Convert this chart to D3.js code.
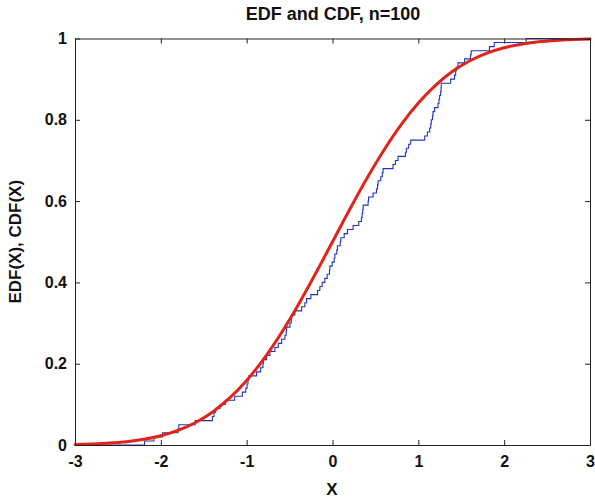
<!DOCTYPE html>
<html><head><meta charset="utf-8">
<script src="https://cdn.jsdelivr.net/npm/d3@7"></script>
<style>body{margin:0;background:#fff}svg text{font-family:"Liberation Sans",Arial,sans-serif;font-weight:bold;fill:#111}</style>
</head><body><svg id="c" width="595" height="500"></svg>
<script>
// Sorted sample values (EDF jumps), n = 100
const edfSamples = [
 -2.19,-2.08,-1.98,-1.80,-1.79,-1.60,-1.40,-1.38,-1.36,-1.31,
 -1.25,-1.14,-1.05,-1.01,-0.995,-0.985,-0.975,-0.884,-0.837,-0.81,
 -0.806,-0.767,-0.729,-0.671,-0.632,-0.593,-0.554,-0.54,-0.535,-0.496,
 -0.48,-0.477,-0.438,-0.36,-0.322,-0.302,-0.252,-0.174,-0.147,-0.12,
 -0.089,-0.062,-0.035,-0.031,-0.004,0.02,0.027,0.05,0.058,0.09,
 0.097,0.136,0.174,0.24,0.306,0.337,0.345,0.352,0.357,0.415,
 0.42,0.473,0.512,0.525,0.531,0.562,0.58,0.589,0.705,0.733,
 0.764,0.85,0.86,0.887,0.911,1.074,1.105,1.132,1.145,1.151,
 1.165,1.171,1.19,1.229,1.24,1.248,1.26,1.265,1.267,1.376,
 1.422,1.435,1.442,1.461,1.539,1.608,1.616,1.829,1.884,2.256];
// CDF curve read at x steps
const cdfX = [-3,-2.8,-2.6,-2.4,-2.2,-2,-1.8,-1.6,-1.4,-1.2,-1,-0.8,-0.6,-0.4,-0.2,0,
 0.2,0.4,0.6,0.8,1,1.2,1.4,1.6,1.8,2,2.2,2.4,2.6,2.8,3];
const cdfY = [0.0013,0.0026,0.0047,0.0082,0.0139,0.0228,0.0359,0.0548,0.0808,0.1151,0.1587,0.2119,0.2743,0.3446,0.4207,0.5,
 0.5793,0.6554,0.7257,0.7881,0.8413,0.8849,0.9192,0.9452,0.9641,0.9772,0.9861,0.9918,0.9953,0.9974,0.9987];
const xTicks = [-3,-2,-1,0,1,2,3];
const xTickLabels = ["-3","-2","-1","0","1","2","3"];
const yTicks = [0,0.2,0.4,0.6,0.8,1];
const yTickLabels = ["0","0.2","0.4","0.6","0.8","1"];

const L=75,R=590,T=38.5,B=445;
const svg=d3.select("#c");
const x=d3.scaleLinear().domain([-3,3]).range([L,R]);
const y=d3.scaleLinear().domain([0,1]).range([B,T]);

// EDF step path
const n=edfSamples.length;
const edfPts=[[-3,0]];
edfSamples.forEach((v,i)=>edfPts.push([v,(i+1)/n]));
edfPts.push([3,1]);
const stepLine=d3.line().x(d=>x(d[0])).y(d=>y(d[1])).curve(d3.curveStepAfter);
svg.append("path").datum(edfPts).attr("d",stepLine).attr("fill","none").attr("stroke","#1f35c0").attr("stroke-width",1.1);

const cdfLine=d3.line().x(d=>x(d[0])).y(d=>y(d[1])).curve(d3.curveMonotoneX);
svg.append("path").datum(cdfX.map((v,i)=>[v,cdfY[i]])).attr("d",cdfLine)
 .attr("fill","none").attr("stroke","#e2231a").attr("stroke-width",3).attr("stroke-linecap","round");

// axes (inside ticks, box)
const tl=5;
const axB=d3.axisBottom(x).tickValues(xTicks).tickSizeInner(-tl).tickSizeOuter(0).tickPadding(11).tickFormat((d,i)=>xTickLabels[i]);
const axT=d3.axisTop(x).tickValues(xTicks).tickSizeInner(-tl).tickSizeOuter(0).tickFormat("");
const axL=d3.axisLeft(y).tickValues(yTicks).tickSizeInner(-tl).tickSizeOuter(0).tickPadding(8).tickFormat((d,i)=>yTickLabels[i]);
const axR=d3.axisRight(y).tickValues(yTicks).tickSizeInner(-tl).tickSizeOuter(0).tickFormat("");
function style(g){g.selectAll("path").attr("stroke","#222").attr("stroke-width",1);
 g.selectAll("line").attr("stroke","#222").attr("stroke-width",1);
 g.selectAll("text").attr("font-size",16).attr("font-family","Liberation Sans, Arial, sans-serif").attr("font-weight","bold").attr("fill","#111");}
svg.append("g").attr("transform",`translate(0,${B})`).call(axB).call(style);
svg.append("g").attr("transform",`translate(0,${T})`).call(axT).call(style);
svg.append("g").attr("transform",`translate(${L},0)`).call(axL).call(style);
svg.append("g").attr("transform",`translate(${R},0)`).call(axR).call(style);

svg.append("text").attr("x",333).attr("y",19.5).attr("text-anchor","middle").attr("font-size",18).text("EDF and CDF, n=100");
svg.append("text").attr("x",332).attr("y",495).attr("text-anchor","middle").attr("font-size",17).text("X");
svg.append("text").attr("transform",`translate(21,${(T+B)/2}) rotate(-90)`).attr("text-anchor","middle").attr("font-size",17).text("EDF(X), CDF(X)");
</script></body></html>
